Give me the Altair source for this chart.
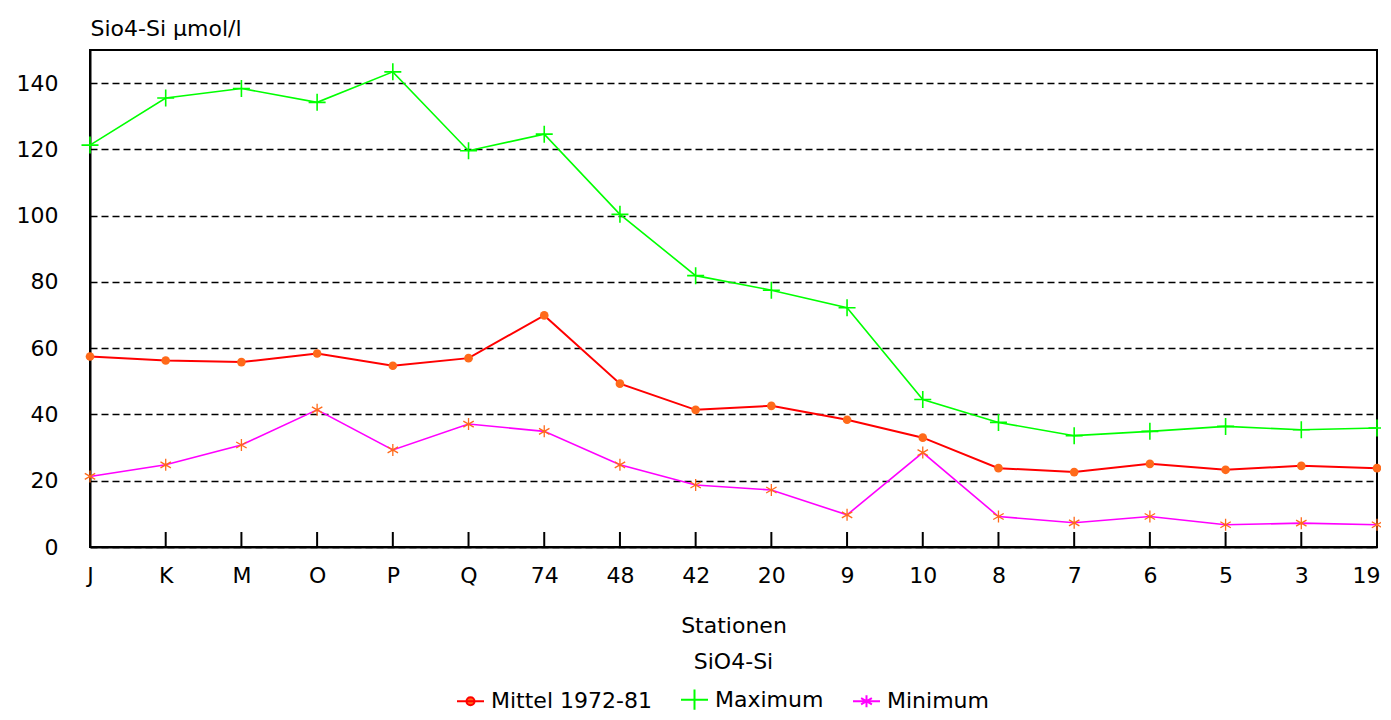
import altair as alt
import pandas as pd

# ---- data ----
stations = ["J", "K", "M", "O", "P", "Q", "74", "48", "42", "20", "9", "10", "8", "7", "6", "5", "3", "19"]
mittel = [57.5, 56.3, 55.8, 58.4, 54.7, 57.0, 69.9, 49.3, 41.4, 42.6, 38.4, 33.0, 23.8, 22.6, 25.1, 23.3, 24.5, 23.8]
maximum = [121.3, 135.5, 138.4, 134.2, 143.4, 119.6, 124.6, 100.4, 81.9, 77.5, 72.2, 44.5, 37.6, 33.6, 34.9, 36.4, 35.4, 35.9]
minimum = [21.3, 24.8, 30.8, 41.4, 29.3, 37.1, 34.9, 24.8, 18.7, 17.2, 9.7, 28.5, 9.2, 7.3, 9.2, 6.7, 7.2, 6.7]
series_names = ["Mittel 1972-81", "Maximum", "Minimum"]
y_ticks = [0, 20, 40, 60, 80, 100, 120, 140]

rows = []
for name, vals in zip(series_names, [mittel, maximum, minimum]):
    for i, (s, v) in enumerate(zip(stations, vals)):
        rows.append({"Station": s, "Wert": v, "Reihe": name, "idx": i})
df = pd.DataFrame(rows)
ticks_df = pd.DataFrame({"Station": stations})

FONT = "DejaVu Sans"
W, H = 1287, 497
LINE_COLORS = ["#ff0000", "#00ff00", "#ff00ff"]
MARK_ORANGE = "#ff6a1a"

PLUS = "M-1,0L1,0M0,-1L0,1"
STAR = "M0,-1L0,1M-0.87,-0.5L0.87,0.5M-0.87,0.5L0.87,-0.5"
LEG_MITTEL = "M-1,0L1,0M-0.3,0A0.3,0.3,0,1,1,0.3,0A0.3,0.3,0,1,1,-0.3,0Z"
LEG_MAX = "M-1,0L1,0M0,-0.75L0,0.75"
LEG_MIN = "M-1,0L1,0M0,-0.45L0,0.45M-0.4,-0.23L0.4,0.23M-0.4,0.23L0.4,-0.23"

x_enc = alt.X(
    "Station:N", sort=stations,
    scale=alt.Scale(type="point", padding=0),
    axis=alt.Axis(
        title="Stationen", titleFont=FONT, titleFontSize=22, titleFontWeight="normal",
        titleColor="black", titleBaseline="middle", titleY=78,
        labelFont=FONT, labelFontSize=22, labelColor="black", labelAngle=0,
        labelPadding=18, ticks=False, tickSize=0, domainColor="black", domainWidth=2,
        grid=False, labelOverlap=False,
        labelOffset={"condition": {"test": "datum.value === '19'", "value": -11}, "value": 0},
    ),
)
y_enc = alt.Y(
    "Wert:Q",
    scale=alt.Scale(domain=[0, 150], nice=False, zero=True),
    axis=alt.Axis(
        title="Sio4-Si µmol/l", titleFont=FONT, titleFontSize=22, titleFontWeight="normal",
        titleColor="black", titleAngle=0, titleAlign="left", titleBaseline="middle",
        titleX=0, titleY=-22,
        values=y_ticks, labelFont=FONT, labelFontSize=22, labelColor="black",
        labelPadding=32, ticks=False, tickSize=0, domainColor="black", domainWidth=2,
        grid=True, gridColor="black", gridDash=[7, 4], gridWidth=1.6, gridOpacity=1,
    ),
)

layers = []
widths = [2, 1.6, 1.6]
for name, col, w in zip(series_names, LINE_COLORS, widths):
    layers.append(
        alt.Chart(df).transform_filter(alt.datum.Reihe == name)
        .mark_line(color=col, strokeWidth=w)
        .encode(x=x_enc, y=y_enc, order="idx:Q")
    )

# markers
layers.append(
    alt.Chart(df).transform_filter(alt.datum.Reihe == series_names[0])
    .mark_point(shape="circle", filled=True, color=MARK_ORANGE, size=75, opacity=1)
    .encode(x=x_enc, y=y_enc)
)
layers.append(
    alt.Chart(df).transform_filter(alt.datum.Reihe == series_names[1])
    .mark_point(shape=PLUS, filled=False, color="#00ff00", size=289, strokeWidth=1.6, opacity=1)
    .encode(x=x_enc, y=y_enc)
)
layers.append(
    alt.Chart(df).transform_filter(alt.datum.Reihe == series_names[2])
    .mark_point(shape=STAR, filled=False, color=MARK_ORANGE, size=144, strokeWidth=1.3, opacity=1)
    .encode(x=x_enc, y=y_enc)
)

# inward x-axis tick marks
layers.append(
    alt.Chart(ticks_df).mark_rule(color="black", strokeWidth=2)
    .encode(x=alt.X("Station:N", sort=stations), y=alt.value(H - 15), y2=alt.value(H))
)

# legend-only layer (no data drawn)
leg = dict(
    title=None, orient="none", legendX=366, legendY=635, direction="horizontal",
    symbolSize=729, symbolStrokeWidth=2, labelFont=FONT, labelFontSize=22,
    labelColor="black", columnPadding=25, labelOffset=6, symbolOpacity=1,
    labelLimit=0,
)
layers.append(
    alt.Chart(df).transform_filter("false")
    .mark_point(filled=False, strokeWidth=2)
    .encode(
        x=x_enc, y=y_enc,
        shape=alt.Shape("Reihe:N", scale=alt.Scale(domain=series_names, range=[LEG_MITTEL, LEG_MAX, LEG_MIN]), legend=alt.Legend(**leg)),
        stroke=alt.Stroke("Reihe:N", scale=alt.Scale(domain=series_names, range=LINE_COLORS), legend=alt.Legend(**leg)),
        fill=alt.Fill("Reihe:N", scale=alt.Scale(domain=series_names, range=[MARK_ORANGE, "transparent", "transparent"]), legend=alt.Legend(**leg)),
    )
)

chart = (
    alt.layer(*layers)
    .properties(
        width=W, height=H,
        title=alt.TitleParams("SiO4-Si", orient="bottom", anchor="middle", offset=-62,
                              font=FONT, fontSize=22, fontWeight="normal", color="black"),
        padding={"left": 82, "top": 42, "right": 4, "bottom": 167},
        autosize="none",
        background="white",
    )
    .configure_view(stroke="black", strokeWidth=2)
)

chart.save("out.html", embed_options={"renderer": "svg", "actions": False})
